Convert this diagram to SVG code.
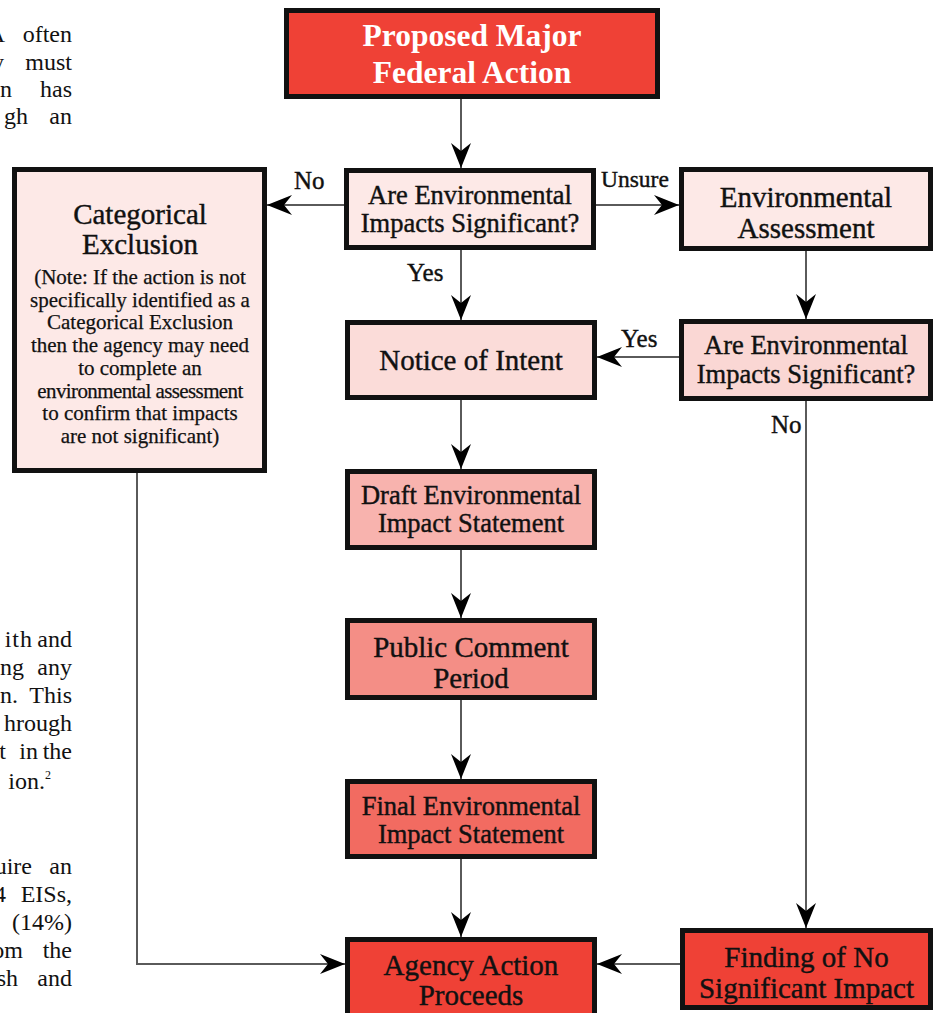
<svg xmlns="http://www.w3.org/2000/svg" width="937" height="1013" viewBox="0 0 937 1013">
<defs>
<style>
.box{stroke:#111;stroke-width:5}
.t{font-family:"Liberation Serif","Times New Roman",serif;fill:#111;text-anchor:middle;stroke:#111;stroke-width:0.4px}
.big{font-size:29px}
.mid{font-size:26.5px}
.note{font-size:21px;stroke-width:0.25px}
.lbl{font-family:"Liberation Serif","Times New Roman",serif;fill:#111;font-size:25px;stroke:#111;stroke-width:0.4px}
.doc{font-family:"Liberation Serif","Times New Roman",serif;fill:#111;font-size:24px;text-anchor:end}
.c{fill:none;stroke:#5a5a5a;stroke-width:2}
</style>
<marker id="ah" markerUnits="userSpaceOnUse" viewBox="-25 -10 25 20" refX="0" refY="0" markerWidth="25" markerHeight="20" orient="auto">
<path d="M0,0 L-25,-10 L-17,0 L-25,10 Z" fill="#000"/>
</marker>
</defs>
<rect width="937" height="1013" fill="#fff"/>

<g id="doc-text">
<text class="doc" x="5" y="42">A</text><text class="doc" x="72" y="42">often</text>
<text class="doc" x="4" y="70">y</text><text class="doc" x="72" y="70">must</text>
<text class="doc" x="12" y="97">n</text><text class="doc" x="72" y="97">has</text>
<text class="doc" x="28" y="124">gh</text><text class="doc" x="72" y="124">an</text>

<text class="doc" x="33" y="647" style="letter-spacing:1px">ith</text><text class="doc" x="72" y="647">and</text>
<text class="doc" x="24" y="675">ng</text><text class="doc" x="72" y="675">any</text>
<text class="doc" x="18" y="703">n.</text><text class="doc" x="72" y="703">This</text>
<text class="doc" x="72" y="731">hrough</text>
<text class="doc" x="6" y="759">t</text><text class="doc" x="38" y="759">in</text><text class="doc" x="72" y="759">the</text>
<text class="doc" x="45" y="789">ion.</text><text class="doc" x="51" y="779" style="font-size:12px">2</text>

<text class="doc" x="32" y="874">uire</text><text class="doc" x="72" y="874">an</text>
<text class="doc" x="6" y="902">4</text><text class="doc" x="72" y="902">EISs,</text>
<text class="doc" x="72" y="930">(14%)</text>
<text class="doc" x="23" y="958">om</text><text class="doc" x="72" y="958">the</text>
<text class="doc" x="18" y="986">sh</text><text class="doc" x="72" y="986">and</text>
</g>

<g id="connectors">
<line class="c" x1="461" y1="99" x2="461" y2="168" marker-end="url(#ah)"/>
<line class="c" x1="344" y1="205" x2="267" y2="205" marker-end="url(#ah)"/>
<line class="c" x1="596" y1="205" x2="679" y2="205" marker-end="url(#ah)"/>
<line class="c" x1="461" y1="250" x2="461" y2="320" marker-end="url(#ah)"/>
<line class="c" x1="806" y1="251" x2="806" y2="319" marker-end="url(#ah)"/>
<line class="c" x1="679" y1="357" x2="597" y2="357" marker-end="url(#ah)"/>
<line class="c" x1="461" y1="400" x2="461" y2="469" marker-end="url(#ah)"/>
<line class="c" x1="461" y1="550" x2="461" y2="618" marker-end="url(#ah)"/>
<line class="c" x1="461" y1="700" x2="461" y2="779" marker-end="url(#ah)"/>
<line class="c" x1="461" y1="859" x2="461" y2="937" marker-end="url(#ah)"/>
<line class="c" x1="806" y1="401" x2="806" y2="928" marker-end="url(#ah)"/>
<polyline class="c" points="137,473 137,964 345,964" marker-end="url(#ah)"/>
<line class="c" x1="680" y1="964" x2="597" y2="964" marker-end="url(#ah)"/>
<text class="lbl" x="294" y="189">No</text>
<text class="lbl" x="601" y="187" style="font-size:23.5px">Unsure</text>
<text class="lbl" x="407" y="281">Yes</text>
<text class="lbl" x="621" y="347">Yes</text>
<text class="lbl" x="771" y="433">No</text>
</g>

<g id="proposed">
<rect class="box" x="286.5" y="10.5" width="371" height="86" fill="#EF4136"/>
<text class="t" x="472" y="46" style="font-size:31.5px;font-weight:bold;fill:#fff;stroke:none">Proposed Major</text>
<text class="t" x="472" y="83" style="font-size:31.5px;font-weight:bold;fill:#fff;stroke:none">Federal Action</text>
</g>

<g id="decision1">
<rect class="box" x="346.5" y="170.5" width="247" height="77" fill="#FDE9E7"/>
<text class="t mid" x="470" y="204">Are Environmental</text>
<text class="t mid" x="470" y="232">Impacts Significant?</text>
</g>

<g id="categorical">
<rect class="box" x="14.5" y="169.5" width="250" height="301" fill="#FDE9E7"/>
<text class="t big" x="140" y="224">Categorical</text>
<text class="t big" x="140" y="254">Exclusion</text>
<text class="t note" x="140" y="284">(Note: If the action is not</text>
<text class="t note" x="140" y="306.7">specifically identified as a</text>
<text class="t note" x="140" y="329.4">Categorical Exclusion</text>
<text class="t note" x="140" y="352">then the agency may need</text>
<text class="t note" x="140" y="374.8">to complete an</text>
<text class="t note" x="140" y="397.5" style="letter-spacing:-0.6px">environmental assessment</text>
<text class="t note" x="140" y="420">to confirm that impacts</text>
<text class="t note" x="140" y="443">are not significant)</text>
</g>

<g id="assessment">
<rect class="box" x="681.5" y="169.5" width="249" height="79" fill="#FDE9E7"/>
<text class="t big" x="806" y="207">Environmental</text>
<text class="t big" x="806" y="238">Assessment</text>
</g>

<g id="decision2">
<rect class="box" x="681.5" y="321.5" width="249" height="77" fill="#FAD7D4"/>
<text class="t mid" x="806" y="354">Are Environmental</text>
<text class="t mid" x="806" y="383">Impacts Significant?</text>
</g>

<g id="notice">
<rect class="box" x="347.5" y="322.5" width="247" height="75" fill="#FBDCD9"/>
<text class="t big" x="471" y="370">Notice of Intent</text>
</g>

<g id="draft">
<rect class="box" x="347.5" y="471.5" width="247" height="76" fill="#F8B3AE"/>
<text class="t mid" x="471" y="504">Draft Environmental</text>
<text class="t mid" x="471" y="532">Impact Statement</text>
</g>

<g id="public">
<rect class="box" x="347.5" y="620.5" width="247" height="77" fill="#F48E86"/>
<text class="t big" x="471" y="657">Public Comment</text>
<text class="t big" x="471" y="688">Period</text>
</g>

<g id="final">
<rect class="box" x="347.5" y="781.5" width="247" height="75" fill="#F26B61"/>
<text class="t mid" x="471" y="815">Final Environmental</text>
<text class="t mid" x="471" y="843">Impact Statement</text>
</g>

<g id="agency">
<rect class="box" x="347.5" y="939.5" width="247" height="80" fill="#EF4136"/>
<text class="t big" x="471" y="975">Agency Action</text>
<text class="t big" x="471" y="1005">Proceeds</text>
</g>

<g id="finding">
<rect class="box" x="682.5" y="930.5" width="248" height="77" fill="#EF4136"/>
<text class="t big" x="806.5" y="967">Finding of No</text>
<text class="t big" x="806.5" y="998">Significant Impact</text>
</g>
</svg>
